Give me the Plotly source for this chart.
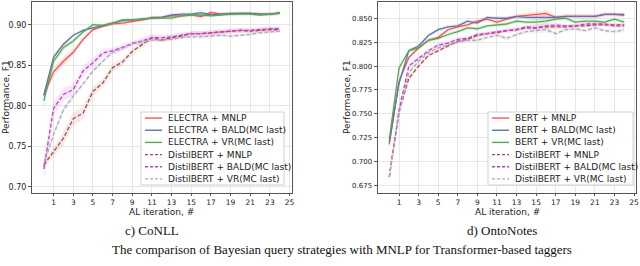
import plotly.graph_objects as go

iters = list(range(25))

# CoNLL panel
conll_electra_mnlp = [0.813, 0.842, 0.855, 0.866, 0.882, 0.894, 0.898, 0.901, 0.902, 0.904, 0.906, 0.909, 0.909, 0.911, 0.911, 0.912, 0.910, 0.915, 0.913, 0.913, 0.914, 0.914, 0.913, 0.913, 0.914]
conll_electra_bald = [0.813, 0.860, 0.876, 0.887, 0.893, 0.896, 0.899, 0.902, 0.905, 0.906, 0.907, 0.908, 0.909, 0.912, 0.913, 0.913, 0.915, 0.912, 0.913, 0.914, 0.914, 0.914, 0.913, 0.913, 0.915]
conll_electra_vr = [0.806, 0.855, 0.872, 0.880, 0.891, 0.900, 0.899, 0.902, 0.906, 0.906, 0.907, 0.908, 0.908, 0.908, 0.911, 0.912, 0.912, 0.911, 0.912, 0.913, 0.913, 0.913, 0.912, 0.913, 0.914]
conll_distil_mnlp = [0.727, 0.743, 0.760, 0.784, 0.791, 0.818, 0.828, 0.847, 0.854, 0.867, 0.875, 0.884, 0.881, 0.884, 0.886, 0.889, 0.889, 0.890, 0.891, 0.892, 0.893, 0.892, 0.893, 0.894, 0.894]
conll_distil_bald = [0.722, 0.797, 0.814, 0.820, 0.843, 0.853, 0.865, 0.868, 0.872, 0.877, 0.880, 0.884, 0.884, 0.885, 0.887, 0.889, 0.889, 0.890, 0.891, 0.892, 0.893, 0.893, 0.894, 0.895, 0.895]
conll_distil_vr = [0.728, 0.765, 0.795, 0.812, 0.827, 0.843, 0.855, 0.866, 0.871, 0.876, 0.879, 0.881, 0.881, 0.882, 0.884, 0.885, 0.885, 0.886, 0.887, 0.886, 0.887, 0.888, 0.890, 0.891, 0.892]

conll_band_electra_mnlp = [0.004, 0.005, 0.005, 0.004, 0.003, 0.002, 0.002, 0.002, 0.002, 0.002, 0.002, 0.002, 0.002, 0.002, 0.002, 0.002, 0.003, 0.002, 0.002, 0.002, 0.002, 0.002, 0.002, 0.002, 0.002]
conll_band_electra_bald = [0.005, 0.004, 0.003, 0.002, 0.002, 0.002, 0.002, 0.002, 0.002, 0.002, 0.002, 0.002, 0.002, 0.002, 0.002, 0.002, 0.002, 0.002, 0.002, 0.002, 0.002, 0.002, 0.002, 0.002, 0.002]
conll_band_electra_vr = [0.012, 0.005, 0.004, 0.003, 0.002, 0.002, 0.002, 0.002, 0.002, 0.002, 0.002, 0.002, 0.002, 0.002, 0.002, 0.002, 0.002, 0.002, 0.002, 0.002, 0.002, 0.002, 0.002, 0.002, 0.002]
conll_band_distil_mnlp = [0.004, 0.006, 0.008, 0.008, 0.008, 0.006, 0.005, 0.005, 0.004, 0.004, 0.004, 0.004, 0.003, 0.003, 0.003, 0.003, 0.003, 0.003, 0.003, 0.003, 0.003, 0.003, 0.003, 0.003, 0.003]
conll_band_distil_bald = [0.015, 0.008, 0.008, 0.007, 0.006, 0.006, 0.005, 0.004, 0.004, 0.003, 0.004, 0.004, 0.003, 0.003, 0.003, 0.003, 0.003, 0.003, 0.003, 0.003, 0.003, 0.003, 0.003, 0.003, 0.003]
conll_band_distil_vr = [0.004, 0.004, 0.004, 0.003, 0.003, 0.003, 0.003, 0.003, 0.002, 0.002, 0.002, 0.002, 0.002, 0.002, 0.002, 0.002, 0.002, 0.002, 0.002, 0.002, 0.002, 0.002, 0.002, 0.002, 0.002]

# OntoNotes panel
onto_bert_mnlp = [0.718, 0.784, 0.809, 0.819, 0.827, 0.830, 0.838, 0.841, 0.843, 0.847, 0.849, 0.846, 0.849, 0.852, 0.853, 0.854, 0.855, 0.851, 0.852, 0.852, 0.852, 0.852, 0.854, 0.854, 0.853]
onto_bert_bald = [0.720, 0.782, 0.816, 0.821, 0.832, 0.838, 0.841, 0.842, 0.847, 0.845, 0.851, 0.850, 0.850, 0.852, 0.851, 0.851, 0.851, 0.851, 0.852, 0.852, 0.852, 0.852, 0.854, 0.854, 0.854]
onto_bert_vr = [0.723, 0.798, 0.816, 0.819, 0.827, 0.829, 0.833, 0.836, 0.840, 0.839, 0.842, 0.843, 0.844, 0.847, 0.846, 0.846, 0.847, 0.849, 0.850, 0.846, 0.847, 0.847, 0.846, 0.849, 0.846]
onto_distil_mnlp = [0.684, 0.752, 0.787, 0.800, 0.811, 0.816, 0.821, 0.826, 0.828, 0.832, 0.834, 0.835, 0.837, 0.838, 0.840, 0.840, 0.841, 0.841, 0.841, 0.842, 0.842, 0.843, 0.843, 0.843, 0.843]
onto_distil_bald = [0.684, 0.754, 0.800, 0.808, 0.816, 0.822, 0.824, 0.828, 0.829, 0.833, 0.834, 0.836, 0.837, 0.838, 0.841, 0.840, 0.842, 0.843, 0.842, 0.842, 0.844, 0.844, 0.844, 0.842, 0.842]
onto_distil_vr = [0.684, 0.750, 0.793, 0.805, 0.814, 0.819, 0.822, 0.825, 0.827, 0.827, 0.830, 0.832, 0.829, 0.833, 0.836, 0.837, 0.838, 0.834, 0.838, 0.839, 0.837, 0.840, 0.837, 0.836, 0.838]

onto_band_small = [0.004, 0.003, 0.002, 0.002, 0.002, 0.002, 0.002, 0.002, 0.002, 0.002, 0.002, 0.002, 0.002, 0.002, 0.002, 0.003, 0.003, 0.002, 0.002, 0.002, 0.002, 0.002, 0.002, 0.002, 0.002]

conll_names = ["ELECTRA + MNLP", "ELECTRA + BALD(MC last)", "ELECTRA + VR(MC last)",
               "DistilBERT + MNLP", "DistilBERT + BALD(MC last)", "DistilBERT + VR(MC last)"]
onto_names = ["BERT + MNLP", "BERT + BALD(MC last)", "BERT + VR(MC last)",
              "DistilBERT + MNLP", "DistilBERT + BALD(MC last)", "DistilBERT + VR(MC last)"]

x_ticks = [1, 3, 5, 7, 9, 11, 13, 15, 17, 19, 21, 23, 25]
conll_yticks = [0.70, 0.75, 0.80, 0.85, 0.90]
onto_yticks = [0.675, 0.700, 0.725, 0.750, 0.775, 0.800, 0.825, 0.850]

colors = ["rgb(250,80,80)", "rgb(100,115,170)", "rgb(80,170,80)",
          "rgb(180,70,70)", "rgb(200,60,200)", "rgb(170,170,185)"]
fills = ["rgba(250,80,80,0.15)", "rgba(100,115,170,0.15)", "rgba(80,170,80,0.15)",
         "rgba(180,120,110,0.15)", "rgba(220,90,220,0.15)", "rgba(170,170,185,0.15)"]
dashes = ["solid", "solid", "solid", "dash", "dash", "dash"]

fig = go.Figure()

def add_panel(series, bands, names, xa, ya):
    for s, b, f in zip(series, bands, fills):
        upper = [v + w for v, w in zip(s, b)]
        lower = [v - w for v, w in zip(s, b)]
        fig.add_trace(go.Scatter(x=iters + iters[::-1], y=upper + lower[::-1], fill="toself",
                                 fillcolor=f, line=dict(width=0), hoverinfo="skip",
                                 showlegend=False, xaxis=xa, yaxis=ya))
    for s, n, c, d in zip(series, names, colors, dashes):
        fig.add_trace(go.Scatter(x=iters, y=s, mode="lines", name=n,
                                 line=dict(color=c, width=1.3, dash=d if d == "solid" else "4px,2px"),
                                 showlegend=False, xaxis=xa, yaxis=ya))

add_panel([conll_electra_mnlp, conll_electra_bald, conll_electra_vr,
           conll_distil_mnlp, conll_distil_bald, conll_distil_vr],
          [conll_band_electra_mnlp, conll_band_electra_bald, conll_band_electra_vr,
           conll_band_distil_mnlp, conll_band_distil_bald, conll_band_distil_vr],
          conll_names, "x", "y")
add_panel([onto_bert_mnlp, onto_bert_bald, onto_bert_vr,
           onto_distil_mnlp, onto_distil_bald, onto_distil_vr],
          [onto_band_small] * 6, onto_names, "x2", "y2")

W, H = 640, 266
def axis_style(size, ticklen=3):
    return dict(showline=True, linecolor="#555", linewidth=1, mirror=True,
                ticks="outside", ticklen=ticklen, tickcolor="#555", automargin=False,
                showgrid=True, gridcolor="#e6e6e6", gridwidth=1, zeroline=False,
                tickfont=dict(family="DejaVu Sans", size=size, color="#222"))

ydom = [(H - 193) / H, (H - 2) / H]
fig.update_layout(
    width=W, height=H, margin=dict(l=0, r=0, t=0, b=0, autoexpand=False),
    paper_bgcolor="white", plot_bgcolor="white",
    xaxis=dict(domain=[32 / W, 291.5 / W], range=[-1.2, 25.2], tickvals=x_ticks, **axis_style(7.5, 2)),
    yaxis=dict(domain=ydom, range=[0.6925, 0.928], tickvals=conll_yticks,
               tickformat=".2f", **axis_style(8)),
    xaxis2=dict(domain=[377.5 / W, 636 / W], range=[-1.2, 25.2], tickvals=x_ticks,
                anchor="y2", **axis_style(7.5, 2)),
    yaxis2=dict(domain=ydom, range=[0.6672, 0.867], tickvals=onto_yticks,
                tickformat=".3f", anchor="x2", **axis_style(7)),
    showlegend=False,
)

ann = []

def text(x, y, t, font, angle=0, xanchor="center"):
    ann.append(dict(x=x / W, y=(H - y) / H, text=t, showarrow=False, textangle=angle,
                    xref="paper", yref="paper", xanchor=xanchor, yanchor="middle", font=font))

lab_font = dict(family="DejaVu Sans", size=9, color="#222")
text(161, 211.5, "AL iteration, #", lab_font)
text(507, 211.5, "AL iteration, #", lab_font)
text(6, 97, "Performance, F1", lab_font, angle=-90)
text(347, 97, "Performance, F1", lab_font, angle=-90)
cap_font = dict(family="Liberation Serif", size=13, color="#111")
text(152, 230.5, "c) CoNLL", cap_font)
text(502, 230.5, "d) OntoNotes", cap_font)
text(342, 249, "The comparison of Bayesian query strategies with MNLP for Transformer-based taggers", cap_font)

# Legends drawn inside each axes (manual boxes matching matplotlib style)
shapes = []
def legend(x0, x1, y0, y1, names):
    shapes.append(dict(type="rect", xref="paper", yref="paper",
                       x0=x0 / W, x1=x1 / W, y0=(H - y1) / H, y1=(H - y0) / H,
                       line=dict(color="#d0d0d0", width=1), fillcolor="rgba(255,255,255,0.85)"))
    step = (y1 - y0) / 6.0
    for i, (n, c, d) in enumerate(zip(names, colors, dashes)):
        yc = y0 + step * (i + 0.5)
        shapes.append(dict(type="line", xref="paper", yref="paper",
                           x0=(x0 + 4) / W, x1=(x0 + 21) / W, y0=(H - yc) / H, y1=(H - yc) / H,
                           line=dict(color=c, width=1.4, dash="solid" if d == "solid" else "3px,2px")))
        text(x0 + 25, yc, n, dict(family="DejaVu Sans", size=9, color="#222"), xanchor="left")

legend(141, 284, 112, 185, conll_names)
legend(488, 633, 112, 185, onto_names)

fig.update_layout(annotations=ann, shapes=shapes)
fig.write_html("out.html", config={"displayModeBar": False},
               post_script="document.body.style.margin='0';document.body.style.overflow='hidden';")
